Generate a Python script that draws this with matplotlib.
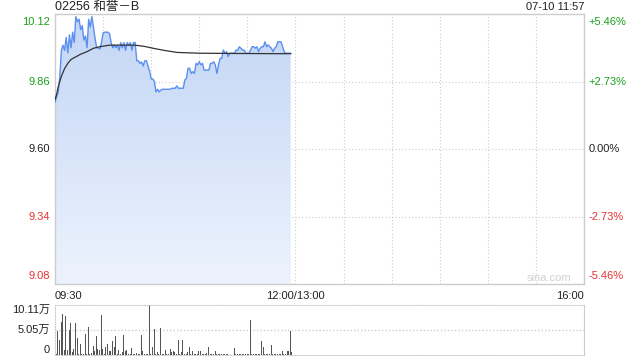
import matplotlib
import matplotlib.pyplot as plt
import numpy as np
from matplotlib.patches import Polygon

matplotlib.use('Agg')
plt.rcParams['font.family'] = ['Liberation Sans', 'Noto Sans CJK SC', 'DejaVu Sans']

title = '02256 和誉－B'
stamp = '07-10 11:57'
prev_close = 9.60

# one value per minute from 09:30
price = [
    9.78, 9.80, 9.82, 9.88, 9.98, 10.00, 9.98, 10.03, 9.97, 10.04,
    9.99, 10.05, 10.01, 10.11, 10.09, 10.10, 10.06, 10.075, 10.02, 10.035,
    9.99, 10.10, 10.07, 10.11, 10.07, 10.025, 9.99, 9.99, 9.985, 10.01,
    10.047, 10.05, 10.05, 10.05, 10.045, 10.01, 9.99, 10.00, 9.99, 10.00,
    9.98, 10.01, 9.99, 10.01, 9.98, 10.01, 10.00, 10.01, 9.98, 10.01,
    10.01, 9.94, 9.94, 9.93, 9.935, 9.92, 9.94, 9.94, 9.92, 9.90,
    9.87, 9.87, 9.86, 9.82, 9.83, 9.82, 9.827, 9.83, 9.83, 9.83,
    9.83, 9.83, 9.83, 9.834, 9.834, 9.834, 9.843, 9.834, 9.834, 9.834,
    9.834, 9.866, 9.872, 9.911, 9.911, 9.891, 9.898, 9.891, 9.930, 9.924,
    9.936, 9.924, 9.930, 9.904, 9.904, 9.904, 9.904, 9.930, 9.930, 9.936,
    9.924, 9.891, 9.924, 9.949, 9.949, 9.981, 9.969, 9.975, 9.956, 9.969,
    9.969, 9.969, 9.969, 9.981, 9.981, 9.994, 9.988, 9.981, 9.981, 9.969,
    9.969, 9.969, 9.981, 9.994, 9.994, 9.988, 9.994, 9.975, 9.988, 9.994,
    9.994, 10.013, 9.994, 10.001, 9.994, 9.988, 9.975, 9.988, 9.994, 10.013,
    10.013, 10.013, 9.994, 9.975, 9.969, 9.969, 9.969, 9.969,
]

# volume in 万 shares, one per minute
volume = [
    0.2, 4.9, 3.0, 6.6, 8.3, 1.0, 7.9, 1.0, 5.0, 6.4,
    0.55, 1.2, 6.4, 3.5, 0.2, 2.3, 0.2, 0.3, 4.2, 0.3,
    5.6, 0.3, 0.5, 1.9, 0.9, 3.9, 1.2, 1.0, 8.1, 1.2,
    0.2, 1.6, 2.3, 0.75, 0.9, 2.75, 1.7, 3.8, 0.2, 1.0,
    0.3, 0.55, 4.0, 0.9, 1.0, 0.2, 0.3, 1.45, 0.2, 0.2,
    0.4, 0.2, 0.2, 4.0, 0.9, 0.2, 0.2, 0.3, 10.11, 0.2,
    1.6, 5.2, 0.3, 0.55, 0.2, 5.4, 0.2, 0.2, 1.0, 0.3,
    0.3, 1.2, 0.55, 0.9, 0.55, 0.2, 3.1, 0.2, 0.55, 3.1,
    0.2, 0.2, 0.55, 1.7, 0.3, 0.75, 0.2, 0.2, 0.2, 0.75,
    0.9, 0.2, 0.3, 0.3, 0.5, 1.7, 0.2, 0.2, 0.2, 0.9,
    0.2, 0.3, 0.2, 0.2, 0.2, 0.2, 0.2, 0.2, 0.1, 0.1,
    0.1, 1.5, 0.2, 0.2, 0.2, 0.2, 0.2, 0.2, 0.3, 0.2,
    0.2, 7.1, 0.2, 0.2, 0.2, 0.2, 0.2, 0.2, 2.75, 1.6,
    0.2, 0.2, 0.2, 0.2, 2.1, 0.2, 0.2, 0.2, 0.2, 0.2,
    0.3, 0.75, 0.2, 0.3, 0.75, 0.9, 4.9, 0.55,
]

avg_minutes = [0, 1, 2, 3, 4, 6, 8, 10, 13, 16, 20, 24, 28, 34, 50, 56, 62, 68, 76, 90, 110, 147]
avg_values = [9.79, 9.81, 9.84, 9.86, 9.88, 9.91, 9.93, 9.945, 9.955, 9.965, 9.975, 9.988,
              9.994, 10.0, 10.0, 9.995, 9.987, 9.98, 9.972, 9.969, 9.968, 9.967]

price_ticks = [10.12, 9.86, 9.60, 9.34, 9.08]
pct_ticks = ['+5.46%', '+2.73%', '0.00%', '-2.73%', '-5.46%']
tick_colors = ['#1a9f1a', '#1a9f1a', '#222222', '#e83030', '#e83030']
vol_ticks = [10.11, 5.05, 0]
vol_labels = ['10.11万', '5.05万', '0']

minutes = np.arange(len(price))
border = '#cccccc'
fs = 8

fig = plt.figure(figsize=(6.4, 3.6), dpi=100)
ax = fig.add_axes([55 / 640, 76 / 360, 529 / 640, 270 / 360])
axv = fig.add_axes([55 / 640, 5 / 360, 529 / 640, 50 / 360])

ymin, ymax = 9.08, 10.12
ax.set_xlim(0, 330)
ax.set_ylim(ymin, ymax)

# gradient area under the price line
verts = [(0, ymin)] + list(zip(minutes, price)) + [(minutes[-1], ymin)]
poly = Polygon(verts, closed=True, facecolor='none', edgecolor='none')
ax.add_patch(poly)
grad = np.linspace(1, 0, 256).reshape(-1, 1)
cmap = matplotlib.colors.LinearSegmentedColormap.from_list('g', ['#edf3fd', '#c3d6f5'])
im = ax.imshow(grad, extent=[0, minutes[-1], ymin, max(price)], aspect='auto',
               cmap=cmap, origin='upper', zorder=1)
im.set_clip_path(poly)

ax.plot(minutes, price, color='#5b8ff0', lw=1.0, zorder=3)
ax.plot(avg_minutes, avg_values, color='#333333', lw=0.9, zorder=4)

for t in price_ticks[1:-1]:
    ax.axhline(t, color=border, lw=0.8, ls=(0, (1, 2)), zorder=0)
for m in range(30, 330, 30):
    ax.axvline(m, color=border, lw=0.8, ls=(0, (1, 2)), zorder=0)

ax.set_xticks([])
ax.set_yticks([])
for s in ax.spines.values():
    s.set_color(border)
    s.set_linewidth(1)

# price labels on both sides
for i, (t, p, c) in enumerate(zip(price_ticks, pct_ticks, tick_colors)):
    va = 'top' if i == 0 else ('bottom' if i == len(price_ticks) - 1 else 'center')
    off = -0.012 if i == 0 else (0.012 if i == len(price_ticks) - 1 else 0)
    ax.text(-3, t + off, f'{t:.2f}', color=c, fontsize=fs, ha='right', va=va)
    ax.text(333, t + off, p, color=c, fontsize=fs, ha='left', va=va)

ax.text(0, 1.026, title, transform=ax.transAxes, fontsize=9, color='#222222', ha='left', va='center')
ax.text(1, 1.026, stamp, transform=ax.transAxes, fontsize=fs, color='#222222', ha='right', va='center')

for m, lab, ha in [(0, '09:30', 'left'), (150, '12:00/13:00', 'center'), (330, '16:00', 'right')]:
    ax.text(m, -0.025, lab, transform=ax.get_xaxis_transform(), fontsize=fs,
            color='#222222', ha=ha, va='top')

ax.text(322, ymin + 0.005, 'sina.com', fontsize=fs, color='#d0d0d0', ha='right', va='bottom')

# volume panel
axv.vlines(minutes + 0.5, 0, volume, color='#555555', lw=0.45, antialiased=False, zorder=2)
axv.set_xlim(0, 330)
axv.set_ylim(0, 10.11)
axv.set_xticks([])
axv.set_yticks([])
for t in vol_ticks[1:-1]:
    axv.axhline(t, color=border, lw=1, ls=(0, (1, 1.5)), zorder=0)
for k in ['top', 'bottom', 'left']:
    axv.spines[k].set_color(border)
    axv.spines[k].set_linestyle((0, (1, 1.5)))
axv.spines['right'].set_color(border)
for i, (t, lab) in enumerate(zip(vol_ticks, vol_labels)):
    va = 'top' if i == 0 else ('bottom' if i == len(vol_ticks) - 1 else 'center')
    axv.text(-3, t, lab, color='#222222', fontsize=fs, ha='right', va=va)

fig.savefig('out.png', dpi=100)
